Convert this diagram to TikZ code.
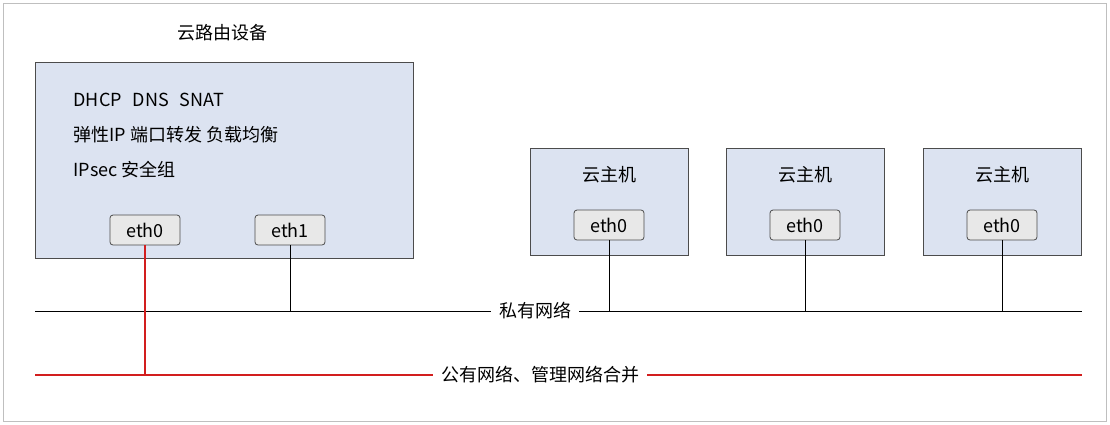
\documentclass[tikz,border=0pt]{standalone}
\usepackage{fontspec}
\setmainfont{Noto Sans CJK SC}
\usetikzlibrary{positioning}
\definecolor{boxblue}{RGB}{220,227,241}
\definecolor{portgray}{RGB}{232,232,232}
\begin{document}
\begin{tikzpicture}[x=1pt,y=-1pt]
\tikzstyle{every node}=[font=\fontsize{18}{21}\selectfont]
\tikzstyle{dev}=[draw=black!70,fill=boxblue,line width=0.8]
\tikzstyle{port}=[draw=black!70,fill=portgray,rounded corners=3,minimum width=70,minimum height=30,inner sep=2,line width=0.8]
\tikzstyle{net}=[fill=white,inner sep=8]
\tikzstyle{wire}=[draw=black,line width=0.8]
\tikzstyle{redwire}=[color={rgb,255:red,210;green,30;blue,30},line width=1.2]
\useasboundingbox (0,0) rectangle (1110,424);
\draw[black!25,line width=1] (3,3) rectangle (1106,421);
% router
\node (title) at (222,33) {云路由设备};
\draw[dev] (35,62) rectangle (413,258);
\node[anchor=west] (svc1) at (70,100) {DHCP\hspace{0.6em}DNS\hspace{0.6em}SNAT};
\node[anchor=west] (svc2) at (70,135) {弹性IP 端口转发 负载均衡};
\node[anchor=west] (svc3) at (70,170) {IPsec 安全组};
\node[port] (r0) at (145,230) {eth0};
\node[port] (r1) at (290,230) {eth1};
% hosts
\foreach \x/\n in {609/a,805/b,1002/c}{
  \draw[dev] (\x-79,148) rectangle (\x+79,255);
  \node (host\n) at (\x,175) {云主机};
  \node[port] (h\n) at (\x,225) {eth0};
}
% networks
\coordinate (pl) at (35,311);
\coordinate (pr) at (1082,311);
\coordinate (ql) at (35,375);
\coordinate (qr) at (1082,375);
\draw[wire] (pl) -- (pr);
\node[net] (priv) at (535,311) {私有网络};
\draw[redwire] (ql) -- (qr);
\node[net] (pub) at (540,375) {公有网络、管理网络合并};
\draw[wire] (r1.south) -- (r1.south |- pl);
\foreach \n in {a,b,c}
  \draw[wire] (h\n.south) -- (h\n.south |- pl);
\draw[redwire] (r0.south) -- (r0.south |- ql);
\end{tikzpicture}
\end{document}
